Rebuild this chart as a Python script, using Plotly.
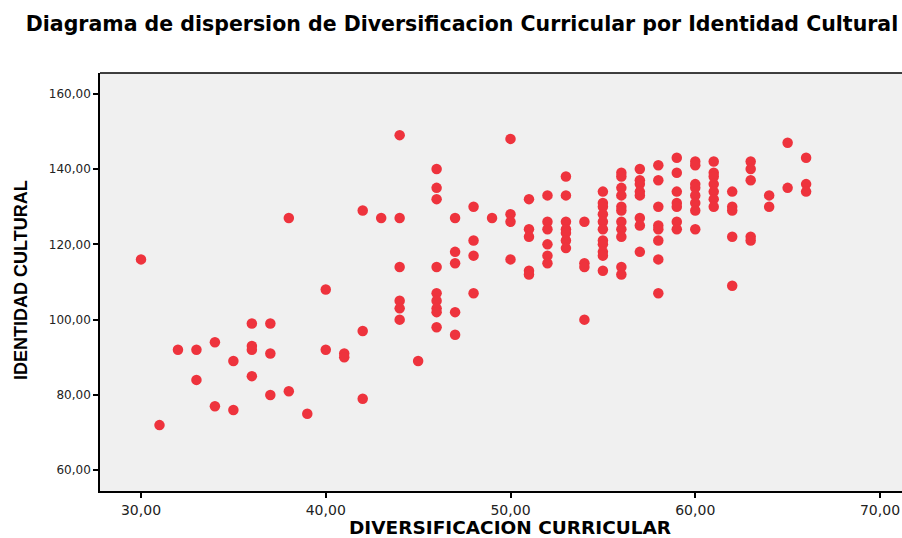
import plotly.graph_objects as go

# Diversificacion Curricular (x) and Identidad Cultural (y), paired observations
diversificacion = [
    30, 31, 32, 33, 33, 34, 34, 35, 35,
    36, 36, 36, 36, 37, 37, 37, 38, 38, 39, 40, 40, 41, 41,
    42, 42, 42, 43,
    44, 44, 44, 44, 44, 44, 45,
    46, 46, 46, 46, 46, 46, 46, 46, 46,
    47, 47, 47, 47, 47, 48, 48, 48, 48, 49,
    50, 50, 50, 50, 51, 51, 51, 51, 51,
    52, 52, 52, 52, 52, 52,
    53, 53, 53, 53, 53, 53, 53,
    54, 54, 54, 54,
    55, 55, 55, 55, 55, 55, 55, 55, 55, 55, 55,
    56, 56, 56, 56, 56, 56, 56, 56, 56, 56, 56,
    57, 57, 57, 57, 57, 57, 57, 57,
    58, 58, 58, 58, 58, 58, 58, 58,
    59, 59, 59, 59, 59, 59, 59,
    60, 60, 60, 60, 60, 60, 60, 60,
    61, 61, 61, 61, 61, 61, 61,
    62, 62, 62, 62, 62,
    63, 63, 63, 63, 63,
    64, 64, 65, 65, 66, 66, 66,
]
identidad = [
    116, 72, 92, 92, 84, 94, 77, 89, 76,
    99, 93, 92, 85, 99, 91, 80, 127, 81, 75, 108, 92, 91, 90,
    129, 97, 79, 127,
    149, 127, 114, 105, 103, 100, 89,
    140, 135, 132, 114, 107, 105, 103, 102, 98,
    127, 118, 115, 102, 96, 130, 121, 117, 107, 127,
    148, 128, 126, 116, 132, 124, 122, 113, 112,
    133, 126, 124, 120, 117, 115,
    138, 133, 126, 124, 123, 121, 119,
    126, 115, 114, 100,
    134, 131, 130, 128, 126, 124, 121, 120, 118, 117, 113,
    139, 138, 135, 133, 130, 129, 126, 124, 122, 114, 112,
    140, 137, 136, 134, 133, 127, 125, 118,
    141, 137, 130, 125, 124, 121, 116, 107,
    143, 139, 134, 131, 130, 126, 124,
    142, 141, 136, 135, 133, 131, 129, 124,
    142, 139, 138, 136, 134, 132, 130,
    134, 130, 129, 122, 109,
    142, 140, 137, 122, 121,
    133, 130, 147, 135, 143, 136, 134,
]

x_ticks = [30, 40, 50, 60, 70]
y_ticks = [60, 80, 100, 120, 140, 160]

title_text = "Diagrama de dispersion de Diversificacion Curricular por Identidad Cultural"
x_title = "DIVERSIFICACION CURRICULAR"
y_title = "IDENTIDAD CULTURAL"

W, H = 902, 538
ML, MR, MT, MB = 100, 0, 73, 538 - 491
PW, PH = W - ML - MR, H - MT - MB

def px_x(p):
    return (p - ML) / PW

def px_y(p):
    return (H - MB - p) / PH

FONT = "DejaVu Sans, Liberation Sans, sans-serif"

fig = go.Figure()
fig.add_trace(go.Scatter(
    x=diversificacion, y=identidad, mode="markers",
    marker=dict(color="#EE333D", size=10.5, line=dict(width=0)),
    hoverinfo="x+y", showlegend=False,
))

axis_common = dict(
    showgrid=False, zeroline=False,
    showline=True, linecolor="#000000", linewidth=1.5,
    ticks="outside", ticklen=5, tickwidth=1.5, tickcolor="#000000",
    tickformat=".2f",
)

fig.update_layout(
    width=W, height=H,
    margin=dict(l=ML, r=MR, t=MT, b=MB, pad=0),
    paper_bgcolor="#FFFFFF", plot_bgcolor="#F0F0F0",
    separators=",.",
    title=dict(
        text="<b>" + title_text + "</b>",
        x=462 / W, xanchor="center", xref="container",
        y=1 - 24 / H, yanchor="middle", yref="container",
        font=dict(family=FONT, size=20.5, color="#000000"),
    ),
    xaxis=dict(axis_common, range=[27.78, 71.19], tickvals=x_ticks,
               tickfont=dict(family=FONT, size=14, color="#222222")),
    yaxis=dict(axis_common, range=[54.5, 165.5], tickvals=y_ticks,
               tickfont=dict(family=FONT, size=12, color="#222222")),
    shapes=[dict(type="line", xref="paper", yref="paper", x0=0, x1=1, y0=1, y1=1,
                 line=dict(color="#000000", width=1.5))],
    annotations=[
        dict(text="<b>" + x_title + "</b>", xref="paper", yref="paper",
             x=px_x(509.5), y=px_y(527),
             xanchor="center", yanchor="middle", showarrow=False,
             font=dict(family=FONT, size=18.5, color="#000000")),
        dict(text="<b>" + y_title + "</b>", xref="paper", yref="paper",
             x=px_x(21), y=px_y(280),
             xanchor="center", yanchor="middle", showarrow=False, textangle=-90,
             font=dict(family="Liberation Sans Narrow, Liberation Sans, sans-serif", size=18, color="#000000")),
    ],
)

fig.write_html(
    "out.html",
    config={"displayModeBar": False},
    post_script="document.body.style.margin='0';document.body.style.overflow='hidden';"
                "document.documentElement.style.overflow='hidden';",
)
